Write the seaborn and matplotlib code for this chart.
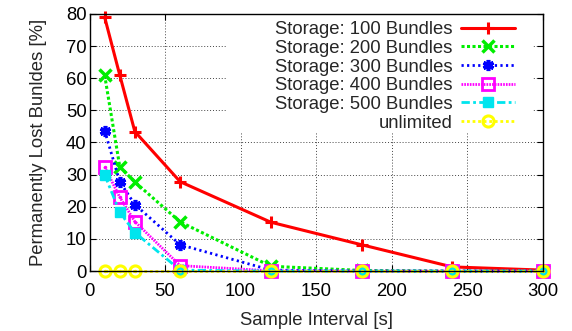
import matplotlib
matplotlib.use("Agg")
import matplotlib.pyplot as plt
from matplotlib.patches import Rectangle
import seaborn as sns
import pandas as pd

x = [10, 20, 30, 60, 120, 180, 240, 300]
s100 = [79.0, 61.0, 43.4, 27.8, 15.2, 8.2, 1.3, 0.3]
s200 = [61.0, 32.5, 27.7, 15.3, 1.5, 0.2, 0.0, 0.0]
s300 = [43.7, 27.8, 20.7, 8.2, 0.3, 0.0, 0.0, 0.0]
s400 = [32.4, 23.0, 15.4, 1.7, 0.1, 0.0, 0.0, 0.0]
s500 = [30.0, 18.3, 12.0, 0.3, 0.0, 0.0, 0.0, 0.0]
unl = [0.0, 0.0, 0.0, 0.0, 0.0, 0.0, 0.0, 0.0]
labels = ["Storage: 100 Bundles", "Storage: 200 Bundles", "Storage: 300 Bundles",
          "Storage: 400 Bundles", "Storage: 500 Bundles", "unlimited"]
xticks = [0, 50, 100, 150, 200, 250, 300]
yticks = [0, 10, 20, 30, 40, 50, 60, 70, 80]

sns.set_style("ticks")
plt.rcParams['font.family'] = ['Liberation Sans', 'DejaVu Sans']
FS = 13.3

fig = plt.figure(figsize=(5.72, 3.31), dpi=100)
ax = fig.add_axes([0.1565, 0.181, 0.7925, 0.777])

styles = [
    dict(color="#ff0000", lw=2.2, ls="-", marker="+", ms=9, mew=2.2, mfc="none"),
    dict(color="#00ee00", lw=2.2, ls=(0, (1, 0.8)), marker="x", ms=8, mew=2.5, mfc="none"),
    dict(color="#0000ff", lw=2.0, ls=(0, (0.8, 1.2)), marker=(6, 2, 0), ms=8, mew=2.6, mfc="#0000ff"),
    dict(color="#ff00ff", lw=2.0, ls=(0, (0.6, 0.4)), marker="s", ms=8, mew=2, mfc="none"),
    dict(color="#00e5ee", lw=2.0, ls=(0, (3, 1.2, 1, 1.2)), marker="s", ms=7, mew=1, mfc="#00e5ee"),
    dict(color="#ffff00", lw=2.0, ls=(0, (1, 1)), marker="o", ms=8, mew=2.2, mfc="none"),
]
series = [s100, s200, s300, s400, s500, unl]
for lab, ys, st in zip(labels, series, styles):
    df = pd.DataFrame({"x": x, "y": ys})
    st2 = dict(st)
    ls = st2.pop("ls")
    sns.lineplot(data=df, x="x", y="y", ax=ax, label=lab, linestyle=ls,
                 markeredgecolor=st2["color"], clip_on=False, zorder=3, **st2)
    if st["marker"] in ("s", "o") and st["mfc"] == "none":
        ax.plot(x, ys, ls="none", marker=".", ms=3, color=st["color"], clip_on=False, zorder=3)

ax.set_xlim(0, 300)
ax.set_ylim(0, 80)
ax.set_xticks(xticks)
ax.set_yticks(yticks)
ax.grid(True, color="#444444", ls=(0, (1, 2)), lw=0.7)
ax.set_axisbelow(True)
ax.add_patch(Rectangle((0.302, 0.535), 0.676, 0.465, transform=ax.transAxes,
                       facecolor="white", edgecolor="none", zorder=1.5))
ax.tick_params(direction="in", top=True, right=True, length=4, labelsize=FS, colors="black")
ax.tick_params(axis="x", pad=8.5)
ax.tick_params(axis="y", pad=2)
for sp in ax.spines.values():
    sp.set_linewidth(1.0)
    sp.set_color("black")
    sp.set_zorder(4)
ax.set_xlabel("Sample Interval [s]", fontsize=FS, labelpad=9)
ax.set_ylabel("Permanently Lost Bunldes [%]", fontsize=FS, labelpad=14)

leg = ax.legend(loc="upper right", markerfirst=False, frameon=False, fontsize=FS,
                handlelength=2.9, borderpad=0.1, labelspacing=0.09, handletextpad=0.5,
                borderaxespad=0.3)
leg.set_bbox_to_anchor((0.955, 1.0), transform=ax.transAxes)

fig.savefig("out.png", dpi=100)
